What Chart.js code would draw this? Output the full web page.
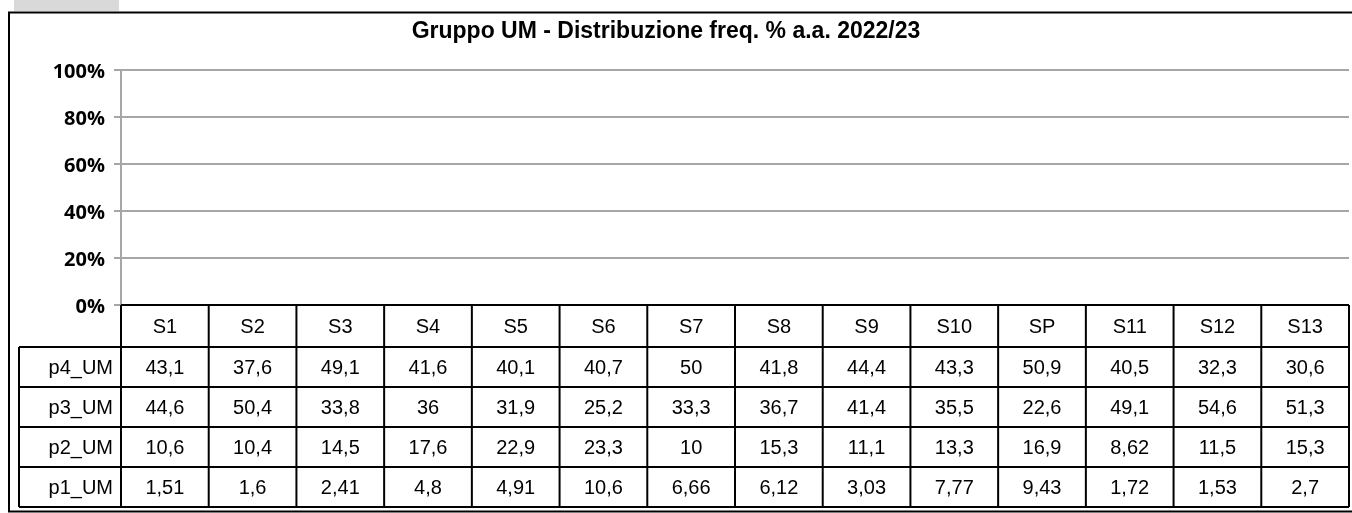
<!DOCTYPE html>
<html>
<head>
<meta charset="utf-8">
<title>Gruppo UM - Distribuzione freq. % a.a. 2022/23</title>
<script src="https://cdn.jsdelivr.net/npm/chart.js@4/dist/chart.umd.min.js"></script>
<style>
  html, body { margin: 0; padding: 0; background: #fff; }
  #wrap { position: relative; width: 1352px; height: 513px; }
</style>
</head>
<body>
<div id="wrap"><canvas id="freq-chart"></canvas></div>
<script>
  var chartTitle = 'Gruppo UM - Distribuzione freq. % a.a. 2022/23';
  var categories = ['S1', 'S2', 'S3', 'S4', 'S5', 'S6', 'S7', 'S8', 'S9', 'S10', 'SP', 'S11', 'S12', 'S13'];
  var seriesNames = ['p4_UM', 'p3_UM', 'p2_UM', 'p1_UM'];
  var p4_UM = [43.1, 37.6, 49.1, 41.6, 40.1, 40.7, 50, 41.8, 44.4, 43.3, 50.9, 40.5, 32.3, 30.6];
  var p3_UM = [44.6, 50.4, 33.8, 36, 31.9, 25.2, 33.3, 36.7, 41.4, 35.5, 22.6, 49.1, 54.6, 51.3];
  var p2_UM = [10.6, 10.4, 14.5, 17.6, 22.9, 23.3, 10, 15.3, 11.1, 13.3, 16.9, 8.62, 11.5, 15.3];
  var p1_UM = [1.51, 1.6, 2.41, 4.8, 4.91, 10.6, 6.66, 6.12, 3.03, 7.77, 9.43, 1.72, 1.53, 2.7];
  var yTicks = [0, 20, 40, 60, 80, 100];

  var seriesValues = [p4_UM, p3_UM, p2_UM, p1_UM];

  // the series are in the chart but the plot shows no bars, like the original
  var datasets = seriesNames.map(function (name, i) {
    return {
      label: name,
      data: seriesValues[i],
      backgroundColor: 'rgba(0,0,0,0)',
      borderWidth: 0
    };
  });

  function fmt(v) {
    return String(v).replace('.', ',');
  }

  // excel style data table under the plot + title + frame
  var dataTable = {
    id: 'dataTable',
    afterDraw: function (chart) {
      var ctx = chart.ctx;
      var area = chart.chartArea;
      var xs = chart.scales.x;
      var colW = area.width / categories.length;
      var headH = 42, rowH = 40, labelLeft = 19;
      var top = area.bottom;
      var bottom = top + headH + rowH * seriesNames.length;

      ctx.save();

      // grey tab top left
      ctx.fillStyle = '#d9d9d9';
      ctx.fillRect(14, 0, 105, 11);

      // title
      ctx.fillStyle = '#000';
      ctx.font = 'bold 23px "Liberation Sans", Arial, sans-serif';
      ctx.textAlign = 'center';
      ctx.textBaseline = 'middle';
      ctx.fillText(chartTitle, 666, 32);

      ctx.strokeStyle = '#000';
      ctx.lineWidth = 2;
      ctx.beginPath();
      // header top
      ctx.moveTo(area.left, top);
      ctx.lineTo(area.right, top);
      // row lines
      for (var r = 0; r <= seriesNames.length; r++) {
        var y = top + headH + r * rowH;
        ctx.moveTo(labelLeft, y);
        ctx.lineTo(area.right, y);
      }
      // column lines
      ctx.moveTo(labelLeft, top + headH);
      ctx.lineTo(labelLeft, bottom);
      for (var c = 0; c < categories.length; c++) {
        var x0 = xs.getPixelForValue(c) - colW / 2;
        ctx.moveTo(x0, top);
        ctx.lineTo(x0, bottom);
      }
      ctx.moveTo(area.right, top);
      ctx.lineTo(area.right, bottom);
      ctx.stroke();

      ctx.font = '20px "Liberation Sans", Arial, sans-serif';
      ctx.textBaseline = 'middle';
      ctx.textAlign = 'center';
      categories.forEach(function (cat, i) {
        ctx.fillText(cat, xs.getPixelForValue(i), top + headH / 2 + 1);
      });
      seriesNames.forEach(function (name, r) {
        var cy = top + headH + r * rowH + rowH / 2 + 1;
        ctx.textAlign = 'right';
        ctx.fillText(name, area.left - 8, cy);
        ctx.textAlign = 'center';
        seriesValues[r].forEach(function (v, i) {
          ctx.fillText(fmt(v), xs.getPixelForValue(i), cy);
        });
      });

      // outer frame
      ctx.lineWidth = 2;
      ctx.strokeRect(9, 12.5, 1360, 499);
      ctx.restore();
    }
  };

  var chart = new Chart(document.getElementById('freq-chart').getContext('2d'), {
    type: 'bar',
    data: {
      labels: categories,
      datasets: datasets
    },
    options: {
      responsive: true,
      maintainAspectRatio: false,
      animation: false,
      layout: {
        padding: { top: 70, right: 3, bottom: 208, left: 0 }
      },
      plugins: {
        legend: { display: false },
        tooltip: { enabled: false },
        title: { display: false }
      },
      scales: {
        x: {
          stacked: true,
          display: false
        },
        y: {
          stacked: true,
          min: 0,
          max: 100,
          afterFit: function (scale) { scale.width = 121; },
          afterBuildTicks: function (scale) {
            scale.ticks = yTicks.map(function (v) { return { value: v }; });
          },
          border: { display: true, color: '#a6a6a6', width: 2 },
          grid: {
            color: '#a6a6a6',
            lineWidth: 2,
            drawTicks: true,
            tickLength: 7
          },
          ticks: {
            padding: 9,
            color: '#000',
            labelOffset: 2,
            font: { family: '"Open Sans", sans-serif', weight: 'bold', size: 20 },
            callback: function (v) { return v + '%'; }
          }
        }
      }
    },
    plugins: [dataTable]
  });
</script>
</body>
</html>
